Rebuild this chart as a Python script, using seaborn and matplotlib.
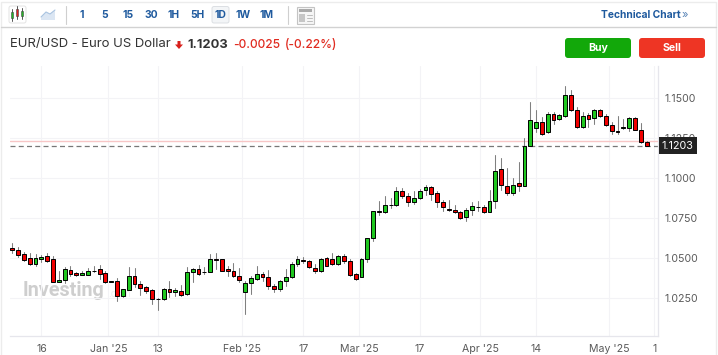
import pandas as pd
import seaborn as sns
import matplotlib.pyplot as plt
from matplotlib.patches import Rectangle, FancyBboxPatch, Polygon

# Daily EUR/USD candles
opens = [1.0563, 1.0553, 1.0528, 1.0499, 1.0464, 1.0493, 1.0512, 1.0493, 1.0351, 1.0361,
         1.0427, 1.0406, 1.0398, 1.0398, 1.0421, 1.0431, 1.0406, 1.0351, 1.0355, 1.0266,
         1.0301, 1.0390, 1.0340, 1.0320, 1.0303, 1.0245, 1.0245, 1.0307, 1.0287, 1.0297,
         1.0274, 1.0413, 1.0431, 1.0414, 1.0413, 1.0491, 1.0493, 1.0431, 1.0421, 1.0390,
         1.0287, 1.0342, 1.0373, 1.0400, 1.0384, 1.0324, 1.0305, 1.0357, 1.0382, 1.0466,
         1.0487, 1.0481, 1.0439, 1.0419, 1.0499, 1.0493, 1.0466, 1.0512, 1.0481, 1.0400,
         1.0384, 1.0492, 1.0626, 1.0793, 1.0787, 1.0833, 1.0833, 1.0919, 1.0888, 1.0853,
         1.0878, 1.0923, 1.0944, 1.0905, 1.0853, 1.0808, 1.0802, 1.0791, 1.0754, 1.0802,
         1.0818, 1.0818, 1.0791, 1.0857, 1.1056, 1.0948, 1.0907, 1.0967, 1.0952, 1.1202,
         1.1314, 1.1353, 1.1285, 1.1399, 1.1366, 1.1388, 1.1516, 1.1426, 1.1316, 1.1391,
         1.1376, 1.1426, 1.1388, 1.1333, 1.1295, 1.1314, 1.1314, 1.1374, 1.1302, 1.1227]
highs = [1.0592, 1.0572, 1.0539, 1.0530, 1.0526, 1.0522, 1.0530, 1.0514, 1.0423, 1.0444,
         1.0448, 1.0415, 1.0417, 1.0437, 1.0452, 1.0458, 1.0423, 1.0355, 1.0375, 1.0307,
         1.0442, 1.0439, 1.0355, 1.0324, 1.0307, 1.0251, 1.0311, 1.0355, 1.0311, 1.0334,
         1.0442, 1.0437, 1.0458, 1.0442, 1.0526, 1.0535, 1.0495, 1.0448, 1.0468, 1.0437,
         1.0355, 1.0386, 1.0448, 1.0411, 1.0427, 1.0340, 1.0365, 1.0431, 1.0473, 1.0514,
         1.0506, 1.0489, 1.0464, 1.0501, 1.0506, 1.0530, 1.0522, 1.0526, 1.0493, 1.0406,
         1.0504, 1.0628, 1.0797, 1.0855, 1.0890, 1.0876, 1.0944, 1.0938, 1.0907, 1.0917,
         1.0932, 1.0959, 1.0948, 1.0917, 1.0866, 1.0862, 1.0835, 1.0793, 1.0812, 1.0849,
         1.0855, 1.0835, 1.0928, 1.1145, 1.1126, 1.1060, 1.1000, 1.1099, 1.1248, 1.1475,
         1.1424, 1.1384, 1.1413, 1.1413, 1.1401, 1.1574, 1.1550, 1.1444, 1.1413, 1.1409,
         1.1430, 1.1430, 1.1403, 1.1349, 1.1386, 1.1366, 1.1380, 1.1382, 1.1341, 1.1231]
lows = [1.0535, 1.0510, 1.0485, 1.0460, 1.0452, 1.0473, 1.0479, 1.0349, 1.0349, 1.0344,
        1.0386, 1.0386, 1.0394, 1.0394, 1.0411, 1.0371, 1.0344, 1.0349, 1.0231, 1.0258,
        1.0299, 1.0320, 1.0272, 1.0282, 1.0216, 1.0179, 1.0241, 1.0258, 1.0266, 1.0266,
        1.0270, 1.0349, 1.0396, 1.0402, 1.0411, 1.0431, 1.0419, 1.0386, 1.0382, 1.0349,
        1.0152, 1.0276, 1.0365, 1.0355, 1.0307, 1.0291, 1.0297, 1.0324, 1.0377, 1.0452,
        1.0468, 1.0439, 1.0406, 1.0415, 1.0448, 1.0456, 1.0460, 1.0468, 1.0390, 1.0361,
        1.0380, 1.0477, 1.0607, 1.0767, 1.0783, 1.0812, 1.0828, 1.0874, 1.0828, 1.0841,
        1.0870, 1.0897, 1.0866, 1.0820, 1.0797, 1.0793, 1.0783, 1.0746, 1.0735, 1.0771,
        1.0793, 1.0785, 1.0787, 1.0812, 1.0928, 1.0893, 1.0897, 1.0921, 1.0950, 1.1200,
        1.1289, 1.1269, 1.1281, 1.1339, 1.1362, 1.1384, 1.1421, 1.1314, 1.1312, 1.1318,
        1.1335, 1.1380, 1.1324, 1.1277, 1.1277, 1.1304, 1.1293, 1.1298, 1.1219, 1.1200]
closes = [1.0551, 1.0520, 1.0489, 1.0464, 1.0501, 1.0508, 1.0483, 1.0351, 1.0365, 1.0431,
          1.0402, 1.0394, 1.0406, 1.0421, 1.0422, 1.0404, 1.0351, 1.0355, 1.0266, 1.0307,
          1.0390, 1.0336, 1.0315, 1.0295, 1.0245, 1.0243, 1.0307, 1.0287, 1.0299, 1.0270,
          1.0415, 1.0431, 1.0404, 1.0412, 1.0493, 1.0490, 1.0423, 1.0419, 1.0388, 1.0361,
          1.0344, 1.0375, 1.0400, 1.0380, 1.0328, 1.0307, 1.0357, 1.0382, 1.0462, 1.0493,
          1.0481, 1.0444, 1.0417, 1.0497, 1.0454, 1.0464, 1.0512, 1.0481, 1.0394, 1.0369,
          1.0492, 1.0628, 1.0793, 1.0787, 1.0833, 1.0834, 1.0919, 1.0888, 1.0853, 1.0878,
          1.0919, 1.0944, 1.0899, 1.0853, 1.0818, 1.0800, 1.0789, 1.0752, 1.0802, 1.0828,
          1.0820, 1.0789, 1.0857, 1.1047, 1.0959, 1.0907, 1.0959, 1.0952, 1.1200, 1.1364,
          1.1353, 1.1277, 1.1399, 1.1362, 1.1395, 1.1516, 1.1426, 1.1316, 1.1388, 1.1368,
          1.1426, 1.1388, 1.1333, 1.1293, 1.1287, 1.1316, 1.1374, 1.1302, 1.1227, 1.1203]

x_ticks = [5, 16.5, 25, 39.4, 50, 59.6, 70, 80.4, 90, 102.5, 110.3]
x_labels = ['16', "Jan '25", '13', "Feb '25", '17', "Mar '25", '17', "Apr '25", '14', "May '25", '1']
y_ticks = [1.0250, 1.0500, 1.0750, 1.1000, 1.1250, 1.1500]
last_price = 1.1203
prev_close = 1.1231

df = pd.DataFrame({'open': opens, 'high': highs, 'low': lows, 'close': closes})
df['idx'] = range(len(df))
df['body'] = (df['close'] - df['open']).abs().clip(lower=0.0002)
df['bottom'] = df[['open', 'close']].min(axis=1)
up = df[df['close'] >= df['open']]
down = df[df['close'] < df['open']]
wicks = df.melt(id_vars='idx', value_vars=['high', 'low'], value_name='price')

sns.set_style('white')
plt.rcParams['font.family'] = ['Inter', 'DejaVu Sans']

W, H = 718, 355
fig = plt.figure(figsize=(W / 100, H / 100), dpi=100)

# Page furniture lives on a pixel-coordinate axes underneath the chart
ui = fig.add_axes([0, 0, 1, 1])
ui.set_xlim(0, W)
ui.set_ylim(H, 0)
ui.axis('off')

ui.plot([1, 1, 716, 716], [H, 2, 2, H], color='#ececec', lw=1)
ui.plot([1, 716], [27, 27], color='#d2d2d2', lw=1)
for sx in [65.5, 287.5]:
    ui.plot([sx, sx], [6, 24], color='#cfcfcf', lw=0.8)

BLUE = '#1f5a9e'
for tx, lab in zip([82, 105, 128, 151, 174, 197, 220, 243, 266],
                   ['1', '5', '15', '30', '1H', '5H', '1D', '1W', '1M']):
    ui.text(tx, 15, lab, color=BLUE, fontsize=7.4, fontweight='bold', ha='center', va='center')
ui.add_patch(FancyBboxPatch((212, 6.5), 17, 16.5, boxstyle='round,pad=0,rounding_size=2',
                            fc='#f3f5f7', ec='#dcdfe3', lw=0.7, zorder=0.5))
ui.text(601, 15, 'Technical Chart', color=BLUE, fontsize=7.4, fontweight='bold', va='center')
ui.text(682, 15, '»', color='#5b86b8', fontsize=8, va='center')

# candle icon
ui.add_patch(FancyBboxPatch((9, 6), 17, 17, boxstyle='round,pad=0,rounding_size=2', fc='white', ec='#e3e3e3', lw=0.7))
for cx, c, t, b in [(12, '#25b525', 12, 18), (17, '#e02020', 9, 16), (22, '#25b525', 11, 16)]:
    ui.plot([cx, cx], [t - 3, b + 3], color='#555555', lw=0.7)
    ui.add_patch(Rectangle((cx - 1.3, t), 2.6, b - t, fc=c, ec='#444444', lw=0.4, zorder=3))
# line icon
ui.add_patch(Polygon([(41, 20), (41, 17), (46, 12), (50, 14), (55, 10), (55, 20)], fc='#dbe6f3', ec='none'))
ui.plot([41, 46, 50, 55], [17, 12, 14, 10], color='#a9c3e0', lw=0.8)
# layout icon
ui.add_patch(Rectangle((297, 7), 16.5, 16.5, fc='#f6f6f6', ec='#c4c4c4', lw=0.8))
ui.add_patch(Rectangle((299, 9), 12.5, 3, fc='#aaaaaa', ec='none'))
ui.add_patch(Rectangle((299, 14), 6, 7.5, fc='#c6c6c6', ec='none'))
for ly in [15, 18, 21]:
    ui.plot([307, 311.5], [ly, ly], color='#bdbdbd', lw=0.7)

# Title line
ui.text(10, 44.5, 'EUR/USD - Euro US Dollar', color='#333333', fontsize=9.45, va='center')
ui.add_patch(Polygon([(177.5, 41), (180.5, 41), (180.5, 44.5), (183, 44.5), (179, 49), (175, 44.5), (177.5, 44.5)],
                     fc='#d8201c', ec='none'))
ui.text(187.5, 44.5, '1.1203', color='#333333', fontsize=9.3, fontweight='bold', va='center')
ui.text(233, 44.5, '-0.0025', color='#e02a1f', fontsize=8.6, fontweight='medium', va='center')
ui.text(285, 44.5, '(-0.22%)', color='#e02a1f', fontsize=8.6, fontweight='medium', va='center')

ui.add_patch(FancyBboxPatch((565, 38), 66, 20, boxstyle='round,pad=0,rounding_size=3', fc='#12a80a', ec='none'))
ui.add_patch(FancyBboxPatch((639, 38), 66, 20, boxstyle='round,pad=0,rounding_size=3', fc='#ee3524', ec='none'))
ui.text(598, 48, 'Buy', color='white', fontsize=7.6, fontweight='bold', ha='center', va='center')
ui.text(672, 48, 'Sell', color='white', fontsize=7.6, fontweight='bold', ha='center', va='center')

# Watermark
ui.text(23, 290, 'Investing', color='#cecece', fontsize=14.2, fontweight='bold', family='Roboto', va='center')
ui.text(108, 294, '.com', color='#eeeeee', fontsize=7, va='center')

# Chart
ax = fig.add_axes([10 / W, 1 - 336 / H, 648 / W, 270 / H])
ax.patch.set_alpha(0)

ax.axhline(prev_close, color='#f7c6c6', lw=1, zorder=1)
ax.axhline(last_price, color='#777777', lw=0.9, linestyle=(0, (4, 2.6)), zorder=1)

sns.lineplot(data=wicks, x='idx', y='price', units='idx', estimator=None, sort=False,
             color='#808080', lw=0.75, ax=ax, zorder=2, legend=False)
sns.barplot(data=up, x='idx', y='body', bottom=up['bottom'], native_scale=True, errorbar=None,
            color='#1fc71f', saturation=1, width=0.66, edgecolor='black', linewidth=0.7, ax=ax, zorder=3)
sns.barplot(data=down, x='idx', y='body', bottom=down['bottom'], native_scale=True, errorbar=None,
            color='#f00000', saturation=1, width=0.66, edgecolor='black', linewidth=0.7, ax=ax, zorder=3)

ax.set_xlim(-0.395, 110.95)
ax.set_ylim(1.0014, 1.1700)
ax.set_xlabel('')
ax.set_ylabel('')
ax.set_xticks(x_ticks)
ax.set_xticklabels(x_labels)
ax.set_yticks(y_ticks)
ax.set_yticklabels([f'{v:.4f}' for v in y_ticks])
ax.yaxis.tick_right()
ax.grid(True, color='#f3f3f6', lw=0.8)
ax.set_axisbelow(True)
ax.tick_params(axis='x', length=3, width=0.7, color='#e6e6ec', labelcolor='#5a5a5a', labelsize=7.6, pad=3)
ax.tick_params(axis='y', length=3, width=0.7, color='#d8d8de', labelcolor='#5a5a5a', labelsize=7.6, pad=2)
sns.despine(ax=ax, left=True, top=True, right=False, bottom=False)
for side in ['right', 'bottom']:
    ax.spines[side].set_color('#e6e6ec')
    ax.spines[side].set_linewidth(0.9)

ax.annotate('1.1203', xy=(1, last_price), xycoords=('axes fraction', 'data'), xytext=(2.8, 0),
            textcoords='offset points', color='white', fontsize=7.8, va='center', ha='left', zorder=10,
            annotation_clip=False, bbox=dict(boxstyle='square,pad=0.3', fc='#222222', ec='none'))

fig.savefig('out.png', dpi=100)
